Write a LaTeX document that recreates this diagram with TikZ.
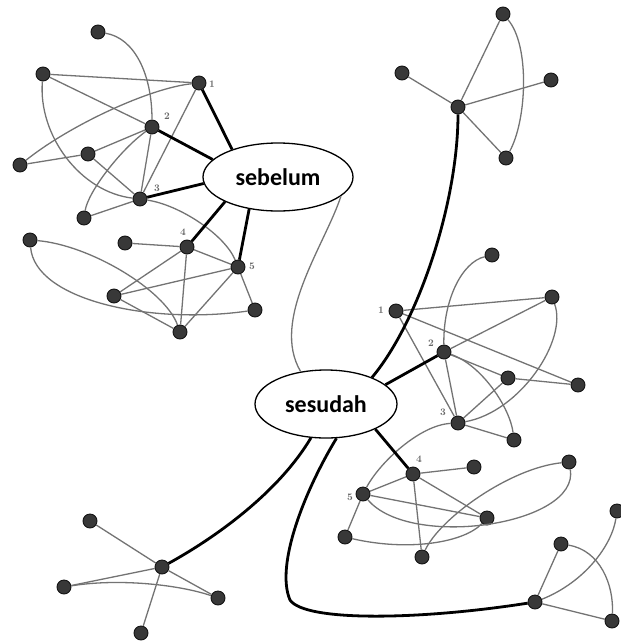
\documentclass[tikz,border=0pt]{standalone}
\usepackage{fontspec}
\newfontfamily\ovalfont{Carlito}
\usetikzlibrary{shapes.geometric}
\tikzset{
  dot/.style={circle, inner sep=0pt, minimum size=14pt, fill=black!78, draw=black!92, line width=0.9pt},
  thin/.style={draw=black!55, line width=1.3pt},
  thick/.style={draw=black, line width=2.8pt},
  oval/.style={ellipse, draw=black, line width=1.3pt, fill=white, inner sep=0pt,
               font=\ovalfont\bfseries\fontsize{24}{27}\selectfont},
  num/.style={font=\fontsize{10}{11}\selectfont\bfseries, text=black!60, inner sep=0pt}
}
\begin{document}
\begin{tikzpicture}[x=1pt, y=-1pt]
\useasboundingbox (0,0) rectangle (621,641);

% ---- upper-left network
\node[dot] (a1) at (98,32) {};
\node[dot] (b1) at (43,74) {};
\node[dot] (n1) at (199,83) {};
\node[dot] (n2) at (152,127) {};
\node[dot] (c1) at (88,154) {};
\node[dot] (d1) at (20,165) {};
\node[dot] (n3) at (140,199) {};
\node[dot] (e1) at (84,218) {};
\node[dot] (f1) at (30,240) {};
\node[dot] (g1) at (125,243) {};
\node[dot] (n4) at (187,247) {};
\node[dot] (n5) at (238,267) {};
\node[dot] (h1) at (114,296) {};
\node[dot] (i1) at (255,310) {};
\node[dot] (j1) at (180,332) {};

% ---- upper-right star
\node[dot] (k2) at (503,14) {};
\node[dot] (l2) at (402,73) {};
\node[dot] (m2) at (458,107) {};
\node[dot] (p2) at (551,80) {};
\node[dot] (o2) at (506,158) {};

% ---- right network
\node[dot] (rp) at (492,255) {};
\node[dot] (r1) at (396,311) {};
\node[dot] (rq) at (552,297) {};
\node[dot] (r2) at (444,352) {};
\node[dot] (rs) at (508,378) {};
\node[dot] (rt) at (578,385) {};
\node[dot] (r3) at (458,423) {};
\node[dot] (ru) at (514,440) {};
\node[dot] (r4) at (413,474) {};
\node[dot] (rv) at (474,467) {};
\node[dot] (rw) at (569,462) {};
\node[dot] (r5) at (363,494) {};
\node[dot] (rx) at (487,518) {};
\node[dot] (ry) at (345,537) {};
\node[dot] (rz) at (422,557) {};

% ---- lower-left star
\node[dot] (u1) at (90,521) {};
\node[dot] (uh) at (162,567) {};
\node[dot] (u2) at (64,587) {};
\node[dot] (u3) at (218,598) {};
\node[dot] (u4) at (141,633) {};

% ---- lower-right star
\node[dot] (vh) at (535,602) {};
\node[dot] (v1) at (561,544) {};
\node[dot] (v2) at (617,511) {};
\node[dot] (v3) at (612,621) {};

% ---- the two ovals
\node[oval, minimum width=150pt, minimum height=68pt] (seb) at (278,177) {sebelum};
\node[oval, minimum width=142pt, minimum height=68pt] (ses) at (326,404) {sesudah};

% ---- node numbers
\node[num] (t1) at (212,84) {1};
\node[num] (t2) at (167,116) {2};
\node[num] (t3) at (157,188) {3};
\node[num] (t4) at (183,232) {4};
\node[num] (t5) at (252,266) {5};
\node[num] (s1) at (381,310) {1};
\node[num] (s2) at (431,343) {2};
\node[num] (s3) at (443,412) {3};
\node[num] (s4) at (419,459) {4};
\node[num] (s5) at (350,497) {5};

% thin links, upper-left
\path[thin] (a1) .. controls (135,38) and (152,75) .. (n2);
\path[thin] (b1) -- (n1);
\path[thin] (b1) -- (n2);
\path[thin] (b1) .. controls (38,135) and (80,192) .. (n3);
\path[thin] (d1) .. controls (70,125) and (150,88) .. (n1);
\path[thin] (d1) -- (c1);
\path[thin] (c1) -- (n2);
\path[thin] (c1) -- (n3);
\path[thin] (n1) -- (n3);
\path[thin] (n2) -- (n3);
\path[thin] (n2) .. controls (120,150) and (88,192) .. (e1);
\path[thin] (e1) -- (n3);
\path[thin] (n3) .. controls (180,205) and (225,235) .. (n5);
\path[thin] (f1) .. controls (90,245) and (165,290) .. (j1);
\path[thin] (f1) .. controls (35,300) and (150,325) .. (i1);
\path[thin] (g1) -- (n4);
\path[thin] (n4) -- (n5);
\path[thin] (n4) -- (h1);
\path[thin] (n4) -- (j1);
\path[thin] (n5) -- (h1);
\path[thin] (n5) -- (i1);
\path[thin] (n5) -- (j1);
\path[thin] (h1) -- (j1);

% thin links, upper-right
\path[thin] (m2) -- (l2);
\path[thin] (m2) -- (k2);
\path[thin] (m2) -- (p2);
\path[thin] (m2) -- (o2);
\path[thin] (k2) .. controls (530,45) and (527,120) .. (o2);

% thin links, right
\path[thin] (rp) .. controls (462,262) and (443,300) .. (r2);
\path[thin] (r1) -- (rq);
\path[thin] (r1) -- (rt);
\path[thin] (r1) -- (r3);
\path[thin] (rq) -- (r2);
\path[thin] (rq) .. controls (568,340) and (520,412) .. (r3);
\path[thin] (r2) -- (rs);
\path[thin] (r2) -- (r3);
\path[thin] (r2) .. controls (482,365) and (510,408) .. (ru);
\path[thin] (rs) -- (rt);
\path[thin] (rs) -- (r3);
\path[thin] (r3) -- (ru);
\path[thin] (r3) .. controls (420,425) and (380,462) .. (r5);
\path[thin] (r4) -- (rv);
\path[thin] (r4) -- (r5);
\path[thin] (r4) -- (rx);
\path[thin] (r4) -- (rz);
\path[thin] (r5) -- (ry);
\path[thin] (r5) -- (rx);
\path[thin] (r5) .. controls (410,550) and (580,525) .. (rw);
\path[thin] (rw) .. controls (510,468) and (440,518) .. (rz);
\path[thin] (ry) .. controls (410,552) and (465,542) .. (rx);

% thin links, lower stars
\path[thin] (u1) -- (uh);
\path[thin] (uh) -- (u3);
\path[thin] (u2) -- (uh);
\path[thin] (u2) .. controls (120,578) and (180,585) .. (u3);
\path[thin] (uh) -- (u4);
\path[thin] (vh) -- (v1);
\path[thin] (vh) -- (v3);
\path[thin] (vh) .. controls (585,582) and (612,545) .. (v2);
\path[thin] (v1) .. controls (600,550) and (614,585) .. (v3);

% thin link between the ovals
\path[thin] (seb.343) .. controls (325,245) and (270,320) .. (ses.128);

% heavy links
\path[thick] (seb.149) -- (n1);
\path[thick] (seb.165) -- (n2);
\path[thick] (seb.185) -- (n3);
\path[thick] (seb.205) -- (n4);
\path[thick] (seb.228) -- (n5);
\path[thick] (ses.18) -- (r2);
\path[thick] (ses.333) -- (r4);
\path[thick] (m2) .. controls (458,200) and (420,320) .. (ses.30);
\path[thick] (ses.246) .. controls (280,490) and (220,535) .. (uh);
\path[thick] (ses.287) .. controls (305,490) and (275,565) .. (290,600)
                        .. controls (305,622) and (420,620) .. (vh);
\end{tikzpicture}
\end{document}
